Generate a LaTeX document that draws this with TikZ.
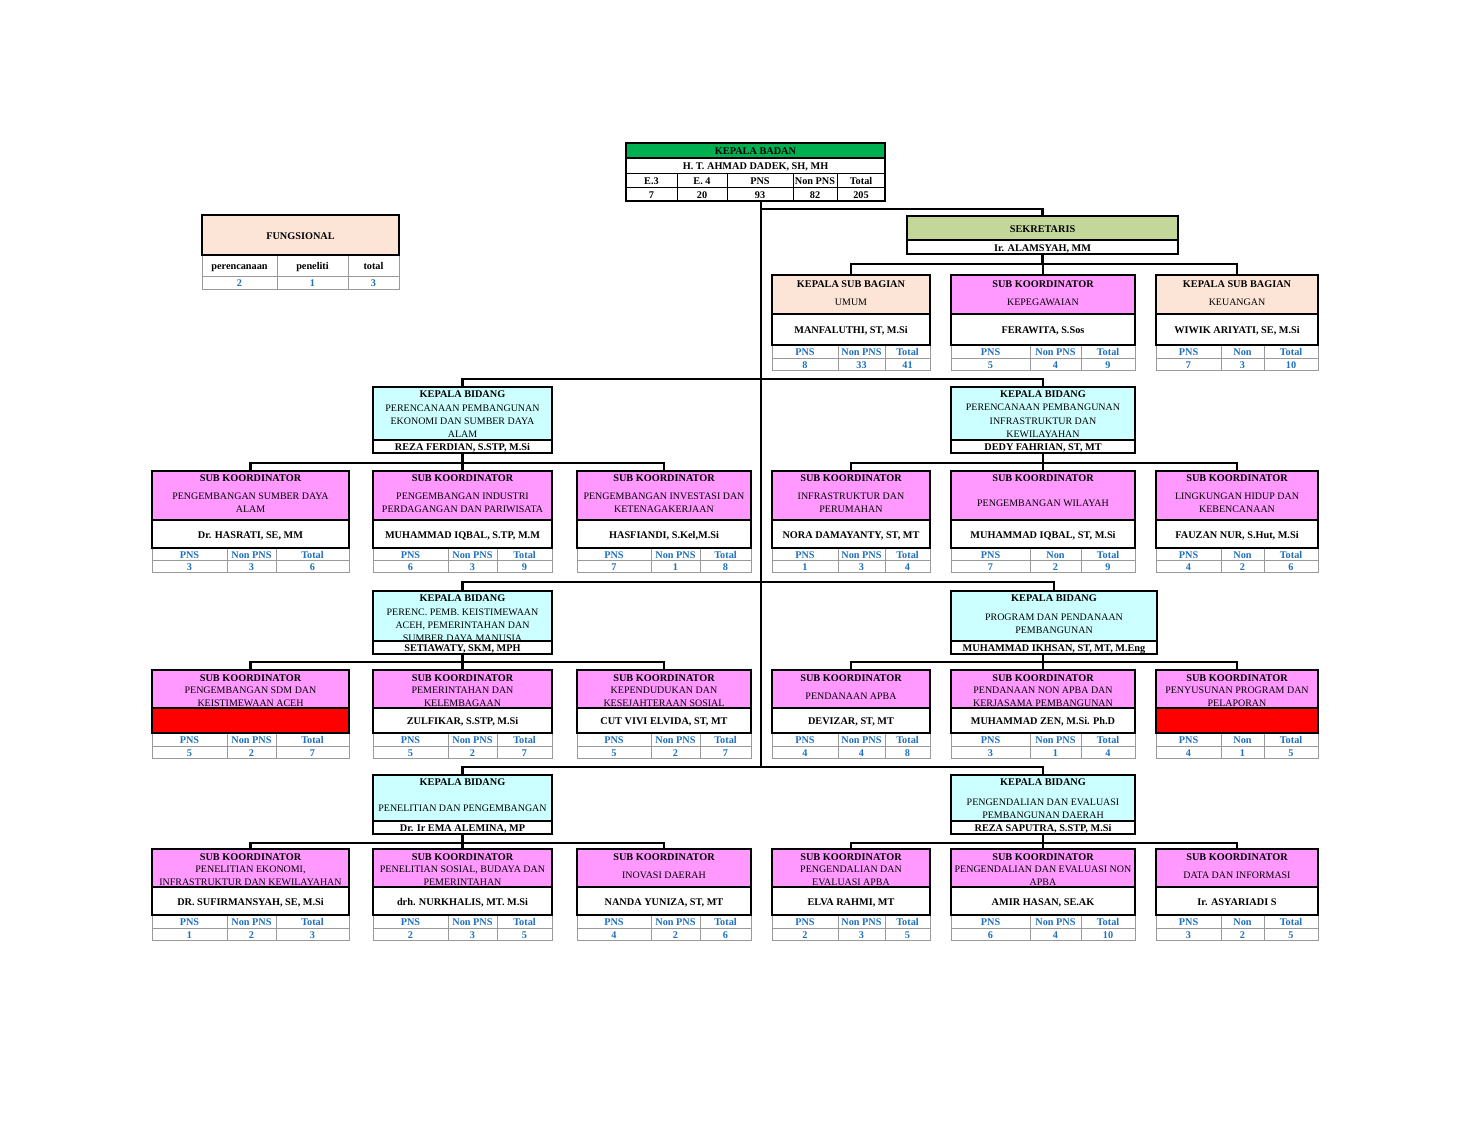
\documentclass[tikz,border=0pt]{standalone}
\usepackage{fontspec}
\setmainfont{Liberation Serif}
\usetikzlibrary{fit}
\definecolor{kgreen}{HTML}{00B050}
\definecolor{sgreen}{HTML}{C4D79B}
\definecolor{peach}{HTML}{FCE4D6}
\definecolor{mag}{HTML}{FF99FF}
\definecolor{bcyan}{HTML}{CCFFFF}
\definecolor{tblue}{HTML}{1F70BE}
\definecolor{gridgray}{HTML}{9A9A9A}

\newcommand\DoTab[6]{%
  \draw[tabgrid] (\pXa,\yN) rectangle (\pXd,\yB);
  \draw[tabgrid] (\pXa,\yL) -- (\pXd,\yL) (\pXb,\yN) -- (\pXb,\yB) (\pXc,\yN) -- (\pXc,\yB);
  \node[tlab] (\pN-l1) at ({(\pXa+\pXb)/2},{(\yN+\yL)/2}) {#1};
  \node[tlab] (\pN-l2) at ({(\pXb+\pXc)/2},{(\yN+\yL)/2}) {#2};
  \node[tlab] (\pN-l3) at ({(\pXc+\pXd)/2},{(\yN+\yL)/2}) {#3};
  \node[tlab] (\pN-v1) at ({(\pXa+\pXb)/2},{(\yL+\yB)/2}) {#4};
  \node[tlab] (\pN-v2) at ({(\pXb+\pXc)/2},{(\yL+\yB)/2}) {#5};
  \node[tlab] (\pN-v3) at ({(\pXc+\pXd)/2},{(\yL+\yB)/2}) {#6};
}
\newcommand\SubBox[9]{%
  \def\pN{#1}\def\pXa{#2}\def\pXb{#3}\def\pXc{#4}\def\pXd{#5}%
  \pgfmathsetmacro\pMid{(#2+#5)/2}%
  \pgfmathsetmacro\pSy{(\yT+13+\yH)/2}%
  \fill[#6] (#2,\yT) rectangle (#5,\yH);
  \node[ttl] (#1-t) at (\pMid,\yTi) {\Ttl};
  \node[subt] (#1-s) at (\pMid,\pSy) {#7};
  \fill[\NF] (#2,\yH) rectangle (#5,\yN);
  \draw[hsep] (#2,\yH) -- (#5,\yH);
  \node[nm] (#1-n) at (\pMid,{(\yH+\yN)/2}) {#8};
  \DoTab#9
  \node[boxframe, fit={(#2,\yT) (#5,\yN)}] (#1) {};
}
\newcommand\BidBox[9]{%
  \pgfmathsetmacro\pMid{(#2+#3)/2}%
  \fill[bcyan] (#2,#4) rectangle (#3,#5);
  \node[ttl] (#1-t) at (\pMid,{#4+6.5}) {KEPALA BIDANG};
  \node[subt] (#1-s) at (\pMid,#7) {#8};
  \fill[white] (#2,#5) rectangle (#3,#6);
  \draw[hsep] (#2,#5) -- (#3,#5);
  \node[nm] (#1-n) at (\pMid,{(#5+#6)/2}) {#9};
  \node[boxframe, fit={(#2,#4) (#3,#6)}] (#1) {};
}

\begin{document}
\begin{tikzpicture}[x=1bp,y=-1bp,
  ttl/.style={font=\bfseries\fontsize{10.3}{12}\selectfont, inner sep=0, text height=6.8bp, text depth=0bp, yshift=-1bp},
  nm/.style={font=\bfseries\fontsize{10.3}{12}\selectfont, inner sep=0, text height=6.8bp, text depth=0bp, yshift=-1bp},
  subt/.style={font=\fontsize{10}{13.3}\selectfont, align=center, inner sep=0, yshift=-1bp},
  tlab/.style={font=\bfseries\fontsize{10.3}{12}\selectfont, text=tblue, inner sep=0, text height=6.8bp, text depth=0bp, yshift=-1bp},
  klab/.style={font=\bfseries\fontsize{10.3}{12}\selectfont, inner sep=0, text height=6.8bp, text depth=0bp, yshift=-1bp},
  boxframe/.style={draw=black, line width=1.8bp, inner sep=0, outer sep=0},
  hsep/.style={draw=black, line width=1.1bp},
  tabgrid/.style={draw=gridgray, line width=0.8bp},
  kgrid/.style={draw=black, line width=0.8bp},
  conn/.style={draw=black, line width=2.6bp},
]
\useasboundingbox[fill=white] (0,0) rectangle (1467,1133);

% ---------------- KEPALA BADAN
\fill[kgreen] (626,143) rectangle (885,158);
\node[ttl] (kb-t) at (755.5,150.5) {KEPALA BADAN};
\draw[hsep] (626,158) -- (885,158);
\node[nm] (kb-n) at (755.5,165.5) {H. T. AHMAD DADEK, SH, MH};
\draw[kgrid] (626,173) -- (885,173) (626,187) -- (885,187)
  (677,173) -- (677,201) (727,173) -- (727,201) (793,173) -- (793,201) (837,173) -- (837,201);
\node[klab] (kb-l1) at (651.5,180) {E.3};
\node[klab] (kb-l2) at (702,180) {E. 4};
\node[klab] (kb-l3) at (760,180) {PNS};
\node[klab] (kb-l4) at (815,180) {Non PNS};
\node[klab] (kb-l5) at (861,180) {Total};
\node[klab] (kb-v1) at (651.5,194) {7};
\node[klab] (kb-v2) at (702,194) {20};
\node[klab] (kb-v3) at (760,194) {93};
\node[klab] (kb-v4) at (815,194) {82};
\node[klab] (kb-v5) at (861,194) {205};
\node[boxframe, fit={(626,143) (885,201)}] (kb) {};

% ---------------- FUNGSIONAL
\fill[peach] (202,215) rectangle (399,255);
\node[ttl] (fg-t) at (300.5,235) {FUNGSIONAL};
\draw[tabgrid] (202,255) rectangle (399,289);
\draw[tabgrid] (202,276) -- (399,276) (277,255) -- (277,289) (348,255) -- (348,289);
\node[klab] (fg-l1) at (239.5,265.5) {perencanaan};
\node[klab] (fg-l2) at (312.5,265.5) {peneliti};
\node[klab] (fg-l3) at (373.5,265.5) {total};
\node[tlab] (fg-v1) at (239.5,282.5) {2};
\node[tlab] (fg-v2) at (312.5,282.5) {1};
\node[tlab] (fg-v3) at (373.5,282.5) {3};
\node[boxframe, fit={(202,215) (399,255)}] (fg) {};

% ---------------- SEKRETARIS
\fill[sgreen] (907,216) rectangle (1178,240);
\node[ttl] (sek-t) at (1042.5,228) {SEKRETARIS};
\draw[hsep] (907,240) -- (1178,240);
\node[nm] (sek-n) at (1042.5,247) {Ir. ALAMSYAH, MM};
\node[boxframe, fit={(907,216) (1178,254)}] (sek) {};

% ---------------- row 1 (sekretariat)
\def\yT{275}\def\yTi{283}\def\yH{314}\def\yN{345}\def\yL{358}\def\yB{370}
\def\NF{white}
\def\Ttl{KEPALA SUB BAGIAN}
\SubBox{u}{772}{838}{885}{930}{peach}{UMUM}{MANFALUTHI, ST, M.Si}{{PNS}{Non PNS}{Total}{8}{33}{41}}
\def\Ttl{SUB KOORDINATOR}
\SubBox{kp}{951}{1030}{1081}{1135}{mag}{KEPEGAWAIAN}{FERAWITA, S.Sos}{{PNS}{Non PNS}{Total}{5}{4}{9}}
\def\Ttl{KEPALA SUB BAGIAN}
\SubBox{ku}{1156}{1221}{1264}{1318}{peach}{KEUANGAN}{WIWIK ARIYATI, SE, M.Si}{{PNS}{Non}{Total}{7}{3}{10}}

% ---------------- bidang row A
\BidBox{bA1}{373}{552}{387}{440}{453}{420}{PERENCANAAN PEMBANGUNAN\\EKONOMI DAN SUMBER DAYA\\ALAM}{REZA FERDIAN, S.STP, M.Si}
\BidBox{bA2}{951}{1135}{387}{440}{453}{420}{PERENCANAAN PEMBANGUNAN\\INFRASTRUKTUR DAN\\KEWILAYAHAN}{DEDY FAHRIAN, ST, MT}

\def\Ttl{SUB KOORDINATOR}
\def\yT{471}\def\yTi{477.5}\def\yH{520}\def\yN{548}\def\yL{560}\def\yB{572}
\SubBox{a1}{152}{227}{276}{349}{mag}{PENGEMBANGAN SUMBER DAYA\\ALAM}{Dr. HASRATI, SE, MM}{{PNS}{Non PNS}{Total}{3}{3}{6}}
\SubBox{a2}{373}{448}{497}{552}{mag}{PENGEMBANGAN INDUSTRI\\PERDAGANGAN DAN PARIWISATA}{MUHAMMAD IQBAL, S.TP, M.M}{{PNS}{Non PNS}{Total}{6}{3}{9}}
\SubBox{a3}{577}{651}{700}{751}{mag}{PENGEMBANGAN INVESTASI DAN\\KETENAGAKERJAAN}{HASFIANDI, S.Kel,M.Si}{{PNS}{Non PNS}{Total}{7}{1}{8}}
\SubBox{a4}{772}{838}{885}{930}{mag}{INFRASTRUKTUR DAN\\PERUMAHAN}{NORA DAMAYANTY, ST, MT}{{PNS}{Non PNS}{Total}{1}{3}{4}}
\SubBox{a5}{951}{1030}{1081}{1135}{mag}{PENGEMBANGAN WILAYAH}{MUHAMMAD IQBAL, ST, M.Si}{{PNS}{Non}{Total}{7}{2}{9}}
\SubBox{a6}{1156}{1221}{1264}{1318}{mag}{LINGKUNGAN HIDUP DAN\\KEBENCANAAN}{FAUZAN NUR, S.Hut, M.Si}{{PNS}{Non}{Total}{4}{2}{6}}

% ---------------- bidang row B
\BidBox{bB1}{373}{552}{591}{641}{654}{624}{PERENC. PEMB. KEISTIMEWAAN\\ACEH, PEMERINTAHAN DAN\\SUMBER DAYA MANUSIA}{SETIAWATY, SKM, MPH}
\BidBox{bB2}{951}{1157}{591}{641}{654}{622.5}{PROGRAM DAN PENDANAAN\\PEMBANGUNAN}{MUHAMMAD IKHSAN, ST, MT, M.Eng}

\def\yT{670}\def\yTi{677}\def\yH{708}\def\yN{733}\def\yL{746}\def\yB{758}
\def\NF{red}
\SubBox{b1}{152}{227}{276}{349}{mag}{PENGEMBANGAN SDM DAN\\KEISTIMEWAAN ACEH}{}{{PNS}{Non PNS}{Total}{5}{2}{7}}
\def\NF{white}
\SubBox{b2}{373}{448}{497}{552}{mag}{PEMERINTAHAN DAN\\KELEMBAGAAN}{ZULFIKAR, S.STP, M.Si}{{PNS}{Non PNS}{Total}{5}{2}{7}}
\SubBox{b3}{577}{651}{700}{751}{mag}{KEPENDUDUKAN DAN\\KESEJAHTERAAN SOSIAL}{CUT VIVI ELVIDA, ST, MT}{{PNS}{Non PNS}{Total}{5}{2}{7}}
\SubBox{b4}{772}{838}{885}{930}{mag}{PENDANAAN APBA}{DEVIZAR, ST, MT}{{PNS}{Non PNS}{Total}{4}{4}{8}}
\SubBox{b5}{951}{1030}{1081}{1135}{mag}{PENDANAAN NON APBA DAN\\KERJASAMA PEMBANGUNAN}{MUHAMMAD ZEN, M.Si. Ph.D}{{PNS}{Non PNS}{Total}{3}{1}{4}}
\def\NF{red}
\SubBox{b6}{1156}{1221}{1264}{1318}{mag}{PENYUSUNAN PROGRAM DAN\\PELAPORAN}{}{{PNS}{Non}{Total}{4}{1}{5}}
\def\NF{white}

% ---------------- bidang row C
\BidBox{bC1}{373}{552}{775}{821}{834}{807}{PENELITIAN DAN PENGEMBANGAN}{Dr. Ir EMA ALEMINA, MP}
\BidBox{bC2}{951}{1135}{775}{821}{834}{807.5}{PENGENDALIAN DAN EVALUASI\\PEMBANGUNAN DAERAH}{REZA SAPUTRA, S.STP, M.Si}

\def\yT{849}\def\yTi{856}\def\yH{887}\def\yN{915}\def\yL{928}\def\yB{940}
\SubBox{c1}{152}{227}{276}{349}{mag}{PENELITIAN EKONOMI,\\INFRASTRUKTUR DAN KEWILAYAHAN}{DR. SUFIRMANSYAH, SE, M.Si}{{PNS}{Non PNS}{Total}{1}{2}{3}}
\SubBox{c2}{373}{448}{497}{552}{mag}{PENELITIAN SOSIAL, BUDAYA DAN\\PEMERINTAHAN}{drh. NURKHALIS, MT. M.Si}{{PNS}{Non PNS}{Total}{2}{3}{5}}
\SubBox{c3}{577}{651}{700}{751}{mag}{INOVASI DAERAH}{NANDA YUNIZA, ST, MT}{{PNS}{Non PNS}{Total}{4}{2}{6}}
\SubBox{c4}{772}{838}{885}{930}{mag}{PENGENDALIAN DAN\\EVALUASI APBA}{ELVA RAHMI, MT}{{PNS}{Non PNS}{Total}{2}{3}{5}}
\SubBox{c5}{951}{1030}{1081}{1135}{mag}{PENGENDALIAN DAN EVALUASI NON\\APBA}{AMIR HASAN, SE.AK}{{PNS}{Non PNS}{Total}{6}{4}{10}}
\SubBox{c6}{1156}{1221}{1264}{1318}{mag}{DATA DAN INFORMASI}{Ir. ASYARIADI S}{{PNS}{Non}{Total}{3}{2}{5}}

% ---------------- connectors
\coordinate (trunk) at (761,0);
\coordinate (busK) at (0,209);
\coordinate (busS) at (0,264);
\coordinate (bus1) at (0,379);
\coordinate (busA) at (0,463);
\coordinate (bus2) at (0,582);
\coordinate (busB) at (0,662);
\coordinate (bus3) at (0,767);
\coordinate (busC) at (0,843);

\draw[conn] (kb.south -| trunk) -- (bus3 -| trunk);
\draw[conn] (busK -| trunk) -| (sek.north);
\draw[conn] (sek.south) -- (sek.south |- busS);
\draw[conn] (u.north) |- (ku.north |- busS) -- (ku.north);
\draw[conn] (kp.north) -- (kp.north |- busS);

\draw[conn] (bA1.north) |- (bA2.north |- bus1) -- (bA2.north);
\draw[conn] (a2.north) -- (a2.north |- bA1.south);
\draw[conn] (a1.north) |- (a3.north |- busA) -- (a3.north);
\draw[conn] (a5.north) -- (a5.north |- bA2.south);
\draw[conn] (a4.north) |- (a6.north |- busA) -- (a6.north);

\draw[conn] (bB1.north) |- (bB2.north |- bus2) -- (bB2.north);
\draw[conn] (b2.north) -- (b2.north |- bB1.south);
\draw[conn] (b1.north) |- (b3.north |- busB) -- (b3.north);
\draw[conn] (b5.north) -- (b5.north |- bB2.south);
\draw[conn] (b4.north) |- (b6.north |- busB) -- (b6.north);

\draw[conn] (bC1.north) |- (bC2.north |- bus3) -- (bC2.north);
\draw[conn] (c2.north) -- (c2.north |- bC1.south);
\draw[conn] (c1.north) |- (c3.north |- busC) -- (c3.north);
\draw[conn] (c5.north) -- (c5.north |- bC2.south);
\draw[conn] (c4.north) |- (c6.north |- busC) -- (c6.north);
\end{tikzpicture}
\end{document}
